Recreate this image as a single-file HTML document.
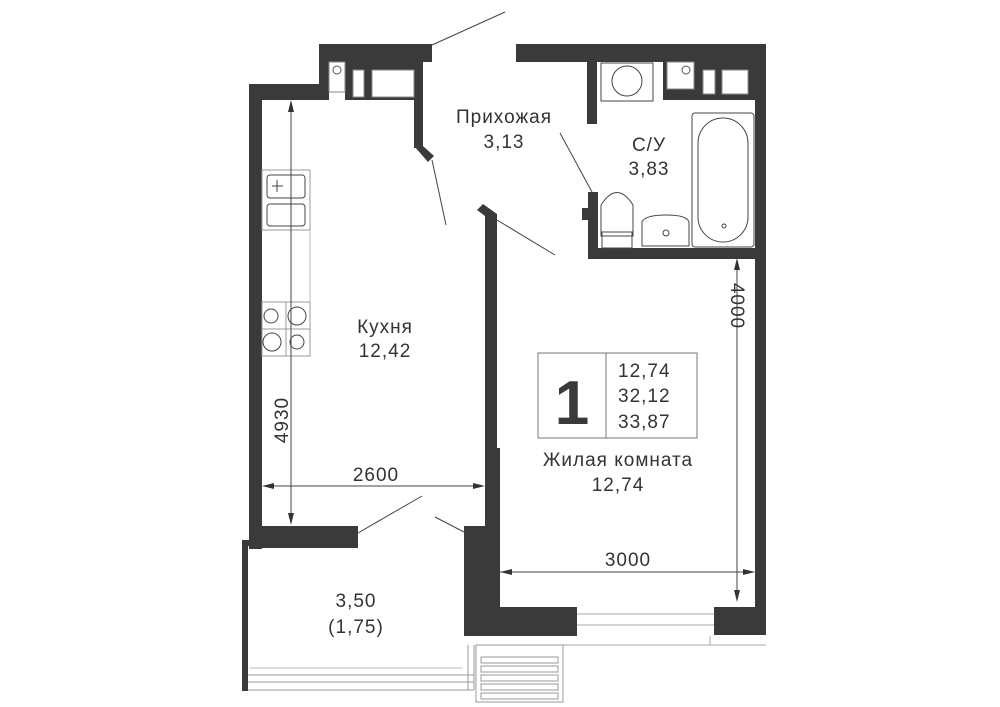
<!DOCTYPE html>
<html><head><meta charset="utf-8"><style>
body{margin:0;background:#fff}
svg{display:block}
text{font-family:"Liberation Sans",sans-serif;fill:#333;font-size:19px;letter-spacing:1px}
</style></head><body>
<svg width="1000" height="707" viewBox="0 0 1000 707" xmlns="http://www.w3.org/2000/svg">
<g fill="#3a3a3a">
<rect x="249" y="84" width="13" height="465"/>
<rect x="249" y="84" width="80" height="16"/>
<rect x="319" y="44" width="113" height="18"/>
<rect x="319" y="44" width="10" height="56"/>
<rect x="345" y="62" width="78" height="38"/>
<rect x="414" y="62" width="9" height="86"/>
<polygon points="414,146 423,146 434,156 428,162"/>
<rect x="516" y="44" width="250" height="18"/>
<rect x="587" y="62" width="10" height="62"/>
<rect x="663" y="62" width="92" height="38"/>
<rect x="755" y="44" width="11" height="591"/>
<rect x="588" y="248" width="178" height="11"/>
<rect x="588" y="192" width="10" height="66"/>
<rect x="582" y="208" width="8" height="12"/>
<polygon points="477,210 483,204 497,214 497,448 500,448 500,526 485,526 485,216"/>
<rect x="464" y="526" width="36" height="110"/>
<rect x="464" y="607" width="113" height="29"/>
<rect x="714" y="607" width="52" height="28"/>
<rect x="249" y="526" width="109" height="22"/>
<rect x="242" y="540" width="8" height="6"/>
<rect x="242" y="540" width="6" height="151"/>
</g>
<g fill="#fff" stroke="#888" stroke-width="1">
<rect x="329" y="62" width="16" height="30"/>
<rect x="353" y="70" width="11" height="27"/>
<rect x="372" y="70" width="42" height="27"/>
<rect x="667" y="62" width="27" height="27"/>
<rect x="703" y="70" width="12" height="24"/>
<rect x="722" y="70" width="26" height="24"/>
</g>
<circle cx="337" cy="70" r="4" fill="none" stroke="#555"/>
<circle cx="686" cy="70" r="4" fill="none" stroke="#555"/>
<g stroke="#444" stroke-width="1" fill="none">
<line x1="432" y1="45" x2="505" y2="12"/>
<line x1="432" y1="160" x2="446" y2="225"/>
<line x1="497" y1="220" x2="555" y2="255"/>
<line x1="560" y1="133" x2="592" y2="192"/>
<line x1="358" y1="533" x2="422" y2="496"/>
<line x1="435" y1="517" x2="464" y2="532"/>
<rect x="262" y="170" width="48" height="60" stroke="#999"/>
<rect x="267" y="175" width="38" height="23" rx="3"/>
<rect x="267" y="204" width="38" height="22" rx="3"/>
<line x1="272" y1="186" x2="283" y2="186"/><line x1="277" y1="180" x2="277" y2="192"/>
<rect x="262" y="302" width="48" height="54" stroke="#999"/>
<line x1="286" y1="302" x2="286" y2="356" stroke="#999"/><line x1="262" y1="329" x2="310" y2="329" stroke="#999"/>
<circle cx="271" cy="316" r="7"/><circle cx="297" cy="316" r="9"/><circle cx="272" cy="342" r="9"/><circle cx="297" cy="342" r="7"/>
<line x1="310" y1="230" x2="310" y2="302" stroke="#bbb"/>
<rect x="601" y="63" width="52" height="38"/>
<circle cx="627" cy="81" r="15"/>
<path d="M601,236 L601,205 Q617,180 633,205 L633,236 Z"/>
<rect x="602" y="232" width="30" height="16"/>
<path d="M642,246 L642,222 Q645,215 666,215 Q687,215 689,222 L689,246 Z"/>
<circle cx="666" cy="233" r="3"/>
<rect x="692" y="113" width="62" height="134" rx="3"/>
<rect x="698" y="118" width="50" height="124" rx="25"/>
<circle cx="724" cy="226" r="2"/>
<line x1="577" y1="614" x2="714" y2="614" stroke="#aaa"/><line x1="577" y1="625" x2="714" y2="625" stroke="#aaa"/>
<line x1="500" y1="645" x2="766" y2="645" stroke="#aaa"/><line x1="710" y1="636" x2="710" y2="645" stroke="#aaa"/>
<line x1="248" y1="675" x2="474" y2="675" stroke="#999"/><line x1="248" y1="682" x2="474" y2="682" stroke="#999"/><line x1="248" y1="690" x2="474" y2="690" stroke="#999"/>
<line x1="250" y1="668" x2="462" y2="668" stroke="#bbb"/>
<line x1="468" y1="645" x2="468" y2="690" stroke="#999"/><line x1="474" y1="645" x2="474" y2="690" stroke="#999"/>
<rect x="476" y="645" width="87" height="57" stroke="#999"/>
<rect x="481" y="657" width="77" height="6" stroke="#999"/>
<rect x="481" y="666" width="77" height="6" stroke="#999"/>
<rect x="481" y="675" width="77" height="6" stroke="#999"/>
<rect x="481" y="684" width="77" height="6" stroke="#999"/>
<rect x="481" y="693" width="77" height="6" stroke="#999"/>
<line x1="291" y1="102" x2="291" y2="523"/>
<line x1="264" y1="486" x2="483" y2="486"/>
<line x1="737" y1="260" x2="737" y2="600"/>
<line x1="500" y1="572" x2="754" y2="572"/>
<rect x="538" y="353" width="159" height="85" stroke="#777"/>
<line x1="606" y1="353" x2="606" y2="438" stroke="#777"/>
</g>
<g fill="#333">
<polygon points="291,100 288,112 294,112"/><polygon points="291,525 288,513 294,513"/>
<polygon points="262,486 274,483 274,489"/><polygon points="485,486 473,483 473,489"/>
<polygon points="737,258 734,270 740,270"/><polygon points="737,602 734,590 740,590"/>
<polygon points="500,572 512,569 512,575"/><polygon points="755,572 743,569 743,575"/>
</g>
<g text-anchor="middle">
<text x="504" y="123">Прихожая</text><text x="504" y="148">3,13</text>
<text x="649" y="151">С/У</text><text x="649" y="175">3,83</text>
<text x="385" y="333">Кухня</text><text x="385" y="357">12,42</text>
<text x="618" y="466">Жилая комната</text><text x="618" y="491">12,74</text>
<text x="356" y="607">3,50</text><text x="356" y="633">(1,75)</text>
<text x="376" y="481">2600</text><text x="628" y="566">3000</text>
<text x="288" y="420" transform="rotate(-90 288 420)">4930</text>
<text x="731" y="306" transform="rotate(90 731 306)">4000</text>
<text x="572" y="424" style="font-size:62px;letter-spacing:0;font-weight:bold;fill:#3a3a3a">1</text>
</g>
<text x="618" y="377">12,74</text><text x="618" y="402">32,12</text><text x="618" y="428">33,87</text>
</svg>
</body></html>
